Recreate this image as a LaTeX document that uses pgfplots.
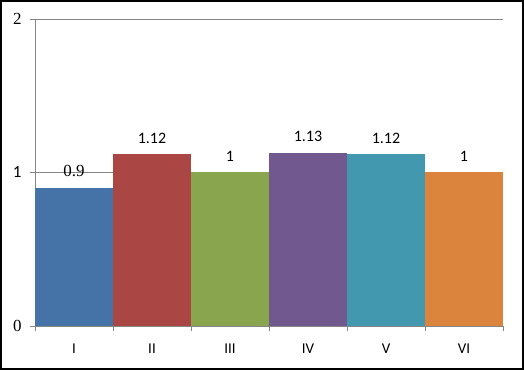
\documentclass[border=0pt]{standalone}
\usepackage{fontspec}
\setmainfont{Carlito}
\newfontfamily\seriffont{Liberation Serif}
\usepackage{pgfplots}
\pgfplotsset{compat=1.18}
\definecolor{c1}{HTML}{4572A7}
\definecolor{c2}{HTML}{AA4643}
\definecolor{c3}{HTML}{89A54E}
\definecolor{c4}{HTML}{71588F}
\definecolor{c5}{HTML}{4198AF}
\definecolor{c6}{HTML}{DB843D}
\definecolor{axgray}{HTML}{868686}
\begin{document}
\begin{tikzpicture}
\begin{axis}[
  at={(0,0)}, anchor=south west,
  scale only axis, width=468bp, height=307bp,
  xmin=-0.5, xmax=5.5, ymin=0, ymax=2,
  /pgf/number format/assume math mode=true,
  ybar, bar width=1,
  xtick={0,...,5}, xticklabels={I,II,III,IV,V,VI},
  major x tick style={draw=none},
  minor xtick={-0.5,0.5,...,5.5},
  ytick={0,1,2}, yticklabels={\textrm{\seriffont 0},\textrm{1},\textrm{\seriffont 2}},
  ymajorgrids, grid style={axgray, line width=0.8pt},
  axis x line*=bottom, axis y line*=left,
  axis line style={axgray, line width=0.8pt, -},
  tick style={axgray, line width=0.8pt},
  tick align=outside, major tick length=5bp, minor tick length=5bp,
  xticklabel style={font=\fontsize{15}{18}\selectfont, yshift=-9bp},
  yticklabel style={font=\fontsize{17}{20}\selectfont, xshift=-5bp},
  point meta=explicit symbolic,
  nodes near coords,
  every node near coord/.append style={text=black, anchor=base, yshift=11bp},
  clip=false,
]
\addplot[fill=c1, draw=none, bar shift=0pt] coordinates {(0,0.9) [{\fontsize{17}{18}\seriffont 0.9}]};
\addplot[fill=c2, draw=none, bar shift=0pt] coordinates {(1,1.12) [{\fontsize{16}{18}\selectfont 1.12}]};
\addplot[fill=c3, draw=none, bar shift=0pt] coordinates {(2,1) [{\fontsize{16}{18}\selectfont 1}]};
\addplot[fill=c4, draw=none, bar shift=0pt] coordinates {(3,1.13) [{\fontsize{16}{18}\selectfont 1.13}]};
\addplot[fill=c5, draw=none, bar shift=0pt] coordinates {(4,1.12) [{\fontsize{16}{18}\selectfont 1.12}]};
\addplot[fill=c6, draw=none, bar shift=0pt] coordinates {(5,1) [{\fontsize{16}{18}\selectfont 1}]};
\end{axis}
\pgfresetboundingbox
\draw[line width=2.5bp] (-33.75bp,-42.75bp) rectangle (487.75bp,324.75bp);
\useasboundingbox (-35bp,-44bp) rectangle (489bp,326bp);
\end{tikzpicture}
\end{document}
